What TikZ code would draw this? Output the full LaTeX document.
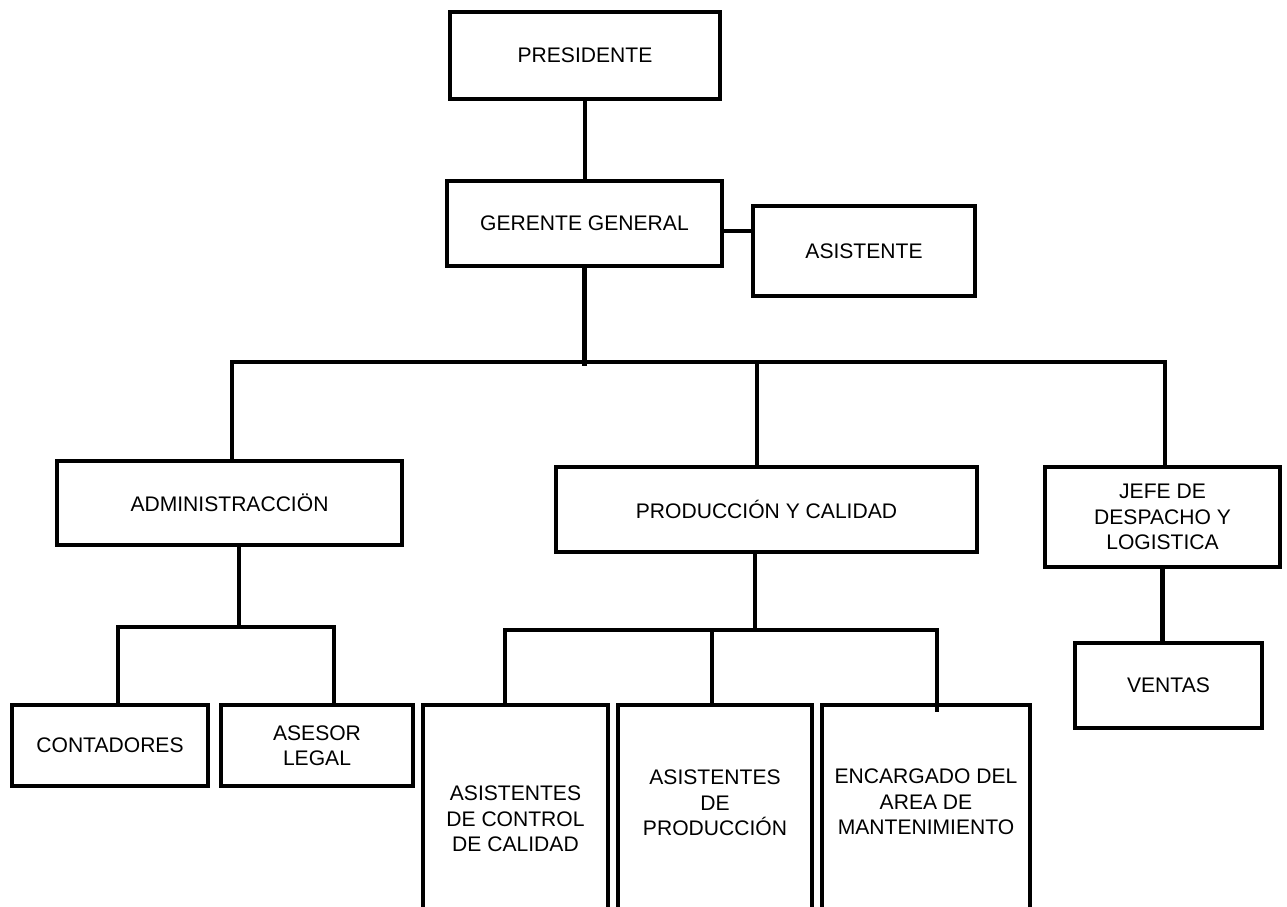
\documentclass[tikz,border=0pt]{standalone}
\usepackage{fontspec}
\setmainfont{Liberation Sans}
\definecolor{ink}{HTML}{000000}

\begin{document}
\begin{tikzpicture}[x=0.02cm, y=-0.02cm, line width=2.5pt, every node/.style={text=ink}]
  \useasboundingbox (0,0) rectangle (1287,906);
  \clip (0,0) rectangle (1287,906);
  \tikzset{unit/.style={draw=ink, rectangle, inner sep=0pt, outer sep=0pt,
      align=center, font=\fontsize{12}{14.5}\selectfont}}

  % Top of the chart: president, general manager and the assistant beside him.
  \node[unit, minimum width=5.4cm, minimum height=1.74cm] (pres) at (585,55.5) {PRESIDENTE};
  \node[unit, minimum width=5.5cm, minimum height=1.7cm] (ger) at (584.5,223.5) {GERENTE GENERAL};
  \node[unit, minimum width=4.44cm, minimum height=1.8cm] (asis) at (864,251) {ASISTENTE};

  % Second level.
  \node[unit, minimum width=6.9cm, minimum height=1.68cm] (adm) at (229.5,503) {ADMINISTRACCIÖN};
  \node[unit, minimum width=8.42cm, minimum height=1.7cm] (prod) at (766.5,509.5) {PRODUCCIÓN Y CALIDAD};
  \node[unit, minimum width=4.7cm, minimum height=2cm] (jefe) at (1162.5,517) {JEFE DE\\DESPACHO Y\\LOGISTICA};

  % Third level; the tall boxes run past the lower edge of the page.
  \node[unit, minimum width=3.92cm, minimum height=1.62cm] (cont) at (110,745.5) {CONTADORES};
  \node[unit, minimum width=3.84cm, minimum height=1.62cm] (ases) at (317,745.5) {ASESOR\\LEGAL};
  \node[unit, minimum width=3.7cm, minimum height=5cm, anchor=north] (acc) at (515.5,705) {};
  \node[unit, minimum width=3.88cm, minimum height=5cm, anchor=north] (apr) at (715,705) {};
  \node[unit, minimum width=4.16cm, minimum height=5cm, anchor=north] (enc) at (926,705) {};
  \node[unit, draw=none] (acctext) at (515.5,819) {ASISTENTES\\DE CONTROL\\DE CALIDAD};
  \node[unit, draw=none] (aprtext) at (715,803) {ASISTENTES\\DE\\PRODUCCIÓN};
  \node[unit, draw=none] (enctext) at (926,802) {ENCARGADO DEL\\AREA DE\\MANTENIMIENTO};
  \node[unit, minimum width=3.74cm, minimum height=1.7cm] (ven) at (1168.5,685.5) {VENTAS};

  % Bus points of the connectors.
  \coordinate (busG) at (583,366);
  \coordinate (busL) at (232,362);
  \coordinate (busR) at (1165,362);
  \coordinate (busP) at (757,362);
  \coordinate (admB) at (239,627);
  \coordinate (admL) at (118,627);
  \coordinate (admR) at (334,627);
  \coordinate (prB) at (755,630);
  \coordinate (prL) at (505,630);
  \coordinate (prM) at (712,630);
  \coordinate (prR) at (937,630);

  \draw (pres.south) -- (pres.south |- ger.north);
  \draw ([yshift=-0.15cm]ger.east) -- ([yshift=-0.15cm]ger.east -| asis.west);
  \draw (ger.south) -- (ger.south |- busG);
  \draw (adm.north -| busL) |- (busR) -- (busR |- jefe.north);
  \draw (busP) -- (prod.north -| busP);
  \draw (adm.south -| admB) -- (admB);
  \draw (cont.north -| admL) |- (admR) -- (ases.north -| admR);
  \draw (prod.south -| prB) -- (prB);
  \draw (acc.north -| prL) |- (prR) -- ([yshift=-0.14cm]enc.north -| prR);
  \draw (prM) -- (apr.north -| prM);
  \draw (jefe.south) -- (jefe.south |- ven.north);
\end{tikzpicture}
\end{document}
